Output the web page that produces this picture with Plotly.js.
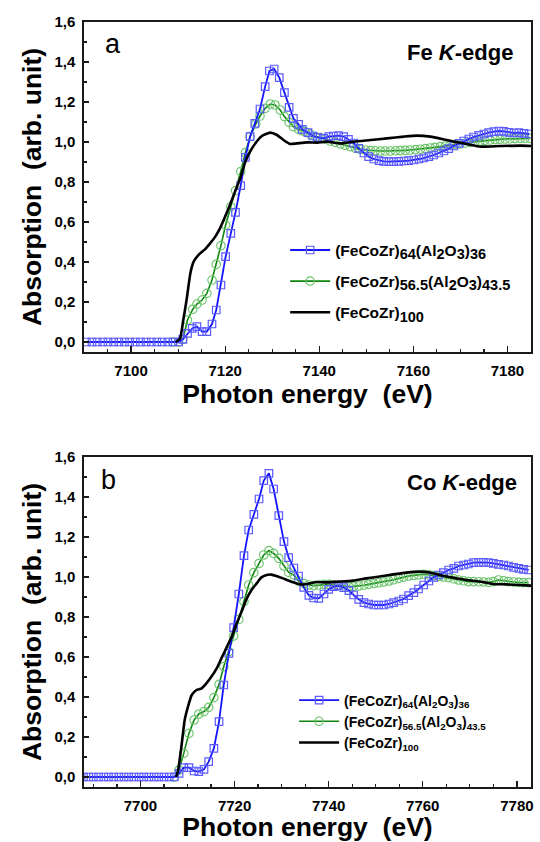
<!DOCTYPE html>
<html>
<head>
<meta charset="utf-8">
<script src="https://cdn.plot.ly/plotly-3.0.1.min.js"></script>
<style>html,body{margin:0;padding:0;background:#fff;}#chart{width:540px;height:842px;}</style>
</head>
<body>
<div id="chart"></div>
<script>
// ---------- Labels ----------
const seriesNamesFe = [
  "(FeCoZr)<sub><span style='font-size:14.5px'>64</span></sub>(Al<sub><span style='font-size:14.5px'>2</span></sub>O<sub><span style='font-size:14.5px'>3</span></sub>)<sub><span style='font-size:14.5px'>36</span></sub>",
  "(FeCoZr)<sub><span style='font-size:14.5px'>56.5</span></sub>(Al<sub><span style='font-size:14.5px'>2</span></sub>O<sub><span style='font-size:14.5px'>3</span></sub>)<sub><span style='font-size:14.5px'>43.5</span></sub>",
  "(FeCoZr)<sub><span style='font-size:14.5px'>100</span></sub>"
];
const seriesNamesCo = [
  "(FeCoZr)<sub>64</sub>(Al<sub>2</sub>O<sub>3</sub>)<sub>36</sub>",
  "(FeCoZr)<sub>56.5</sub>(Al<sub>2</sub>O<sub>3</sub>)<sub>43.5</sub>",
  "(FeCoZr)<sub>100</sub>"
];
const panelLetters = ["a", "b"];
const panelEdges = ["Fe <i>K</i>-edge", "Co <i>K</i>-edge"];
const xTitle = "Photon energy&nbsp; (eV)";
const yTitle = "Absorption&nbsp; (arb. unit)";

// ---------- Panel a: Fe K-edge ----------
const feBlueX = [7090.5,7091.7,7092.8,7094.0,7095.1,7096.3,7097.4,7098.6,7099.7,7100.9,7102.0,7103.2,7104.3,7105.5,7106.6,7107.8,7108.9,7110.1,
  7111.0,7112.0,7113.0,7114.0,7115.1,7116.1,7117.2,7118.1,7119.1,7120.1,7121.2,7122.2,7123.3,7124.3,7125.3,7126.3,7127.4,7128.5,7129.4,7130.4,
  7131.5,7132.6,7133.6,7134.5,7135.6,7136.4,7137.6,7138.6,7139.6,
  7140.9,7142.0,7143.0,7144.1,7145.2,7146.2,7147.3,7148.4,7149.5,7150.5,7151.6,7152.7,7153.7,7154.8,7155.8,7156.9,7158.0,7159.0,7160.1,7161.2,
  7162.2,7163.3,7164.3,7165.4,7166.5,7167.5,7168.6,7169.7,7170.7,7171.8,7172.8,7173.9,7175.0,7176.0,7177.1,7178.2,7179.2,7180.3,7181.4,7182.4,7183.5,7184.6];
const feBlueY = [0,0,0,0,0,0,0,0,0,0,0,0,0,0,0,0,0,0,
  0.013,0.043,0.068,0.077,0.052,0.052,0.09,0.16,0.285,0.427,0.543,0.648,0.782,0.923,1.027,1.093,1.165,1.277,1.355,1.365,
  1.322,1.247,1.173,1.118,1.088,1.063,1.047,1.03,1.023,
  1.018,1.027,1.030,1.032,1.027,1.013,0.995,0.968,0.945,0.927,0.915,0.907,0.903,0.902,0.902,0.903,0.905,0.907,0.910,0.915,
  0.920,0.927,0.935,0.945,0.955,0.967,0.980,0.993,1.005,1.015,1.025,1.033,1.040,1.047,1.052,1.055,1.053,1.048,1.045,1.047,1.043,1.040];

const feGreenX = [7108.9,7110.1,7111.0,7112.0,7113.1,7114.0,7115.1,7116.1,7117.2,7118.1,7119.1,7120.1,7121.2,7122.2,7123.3,7124.3,7125.3,7126.5,
  7127.4,7128.5,7129.6,7130.6,7131.7,7132.6,7133.6,7134.5,7135.6,7136.3,
  7137.0,7138.1,7139.2,7140.2,7141.3,7142.3,7143.4,7144.5,7145.5,7146.6,7147.7,7148.7,7149.8,7150.9,7151.9,7153.0,7154.0,7155.1,7156.2,7157.2,
  7158.3,7159.3,7160.4,7161.5,7162.5,7163.6,7164.6,7165.7,7166.8,7167.8,7168.9,7169.9,7171.0,7172.1,7173.1,7174.2,7175.2,7176.3,7177.4,7178.4,
  7179.5,7180.5,7181.6,7182.7,7183.7,7184.8];
const feGreenY = [0,0,0.013,0.11,0.163,0.19,0.21,0.243,0.31,0.388,0.482,0.585,0.677,0.757,0.852,0.947,1.027,1.09,
  1.13,1.168,1.19,1.185,1.16,1.127,1.098,1.077,1.063,1.057,
  1.052,1.038,1.027,1.022,1.015,1.005,0.998,0.990,0.983,0.977,0.968,0.963,0.960,0.957,0.956,0.955,0.955,0.955,0.956,0.957,
  0.958,0.960,0.962,0.964,0.967,0.970,0.973,0.977,0.980,0.984,0.987,0.990,0.994,0.998,1.002,1.005,1.008,1.010,1.012,1.013,
  1.015,1.016,1.017,1.018,1.018,1.018];

const feBlackX = [7109.5,7110.4,7111.1,7111.8,7112.6,7113.3,7114.3,7115.7,7116.8,7117.9,7118.9,7120.0,7121.1,7122.1,7123.2,7124.3,7125.3,7126.4,7127.8,7129.6,
  7131.0,7132.4,7133.8,7135.2,7137.4,7139.6,7141.6,7144.5,7147.3,7150.9,7154.4,7158.0,7160.8,7163.6,7166.5,7168.6,7171.4,7174.3,7178.5,7182.8,7185.0];
const feBlackY = [0,0.017,0.11,0.21,0.343,0.402,0.435,0.463,0.493,0.527,0.568,0.627,0.69,0.752,0.818,0.902,0.952,0.993,1.03,1.047,
  1.035,1.01,0.99,0.993,0.998,0.997,1.002,0.993,1.002,1.01,1.018,1.027,1.032,1.027,1.013,1.002,0.99,0.977,0.98,0.982,0.98];

// ---------- Panel b: Co K-edge ----------
const coBlueX = [7687.9,7689.0,7690.0,7691.1,7692.2,7693.2,7694.3,7695.4,7696.5,7697.5,7698.6,7699.7,7700.7,7701.8,7702.9,7703.9,7705.0,7706.1,7707.2,
  7708.2,7709.2,7710.3,7711.4,7712.4,7713.5,7714.5,7715.6,7716.7,7717.7,7718.8,7719.8,7720.9,7722.0,7723.0,7724.1,7725.2,7726.2,7727.3,7728.3,
  7729.4,7730.5,7731.5,7732.6,7733.6,7734.7,7735.8,7736.8,7737.9,7739.0,7740.0,7741.1,7742.1,7743.2,7744.3,7745.3,7746.4,7747.5,7748.5,7749.6,
  7750.6,7751.7,7752.8,7753.8,7754.9,7755.9,7757.0,7758.1,7759.1,7760.2,7761.3,7762.3,7763.4,7764.4,7765.5,7766.6,7767.6,7768.7,7769.7,7770.8,
  7771.9,7772.9,7774.0,7775.0,7776.1,7777.2,7778.2,7779.3,7780.4,7781.4,7782.5];
const coBlueY = [0,0,0,0,0,0,0,0,0,0,0,0,0,0,0,0,0,0,0,
  0.018,0.047,0.047,0.03,0.027,0.038,0.077,0.143,0.277,0.46,0.618,0.747,0.915,1.107,1.235,1.313,1.39,1.482,1.518,1.44,
  1.307,1.177,1.097,1.045,1.005,0.948,0.908,0.895,0.893,0.915,0.938,0.952,0.957,0.947,0.932,0.91,0.888,0.872,0.865,0.86,
  0.86,0.86,0.865,0.872,0.88,0.89,0.907,0.922,0.94,0.96,0.98,0.998,1.01,1.022,1.035,1.043,1.055,1.06,1.065,1.072,
  1.073,1.073,1.072,1.068,1.063,1.06,1.055,1.048,1.043,1.038,1.035];

const coGreenX = [7707.2,7708.2,7709.2,7710.3,7711.4,7712.4,7713.5,7714.5,7715.6,7716.7,7717.7,7718.8,7719.8,7720.9,7722.0,7723.0,7724.1,7725.2,7726.2,7727.3,
  7728.3,7729.4,7730.5,7731.5,7732.6,7733.6,7734.7,7735.8,7736.8,7737.9,7739.0,7740.0,
  7741.1,7742.1,7743.2,7744.3,7745.3,7746.4,7747.5,7748.5,7749.6,7750.6,7751.7,7752.8,7753.8,7754.9,7755.9,7757.0,7758.1,7759.1,7760.2,7761.3,
  7762.3,7763.4,7764.4,7765.5,7766.6,7767.6,7768.7,7769.7,7770.8,7771.9,7772.9,7774.0,7775.0,7776.1,7777.2,7778.2,7779.3,7780.4,7781.4,7782.5];
const coGreenY = [0,0.035,0.118,0.218,0.285,0.315,0.327,0.348,0.397,0.463,0.552,0.627,0.705,0.788,0.877,0.96,1.022,1.068,1.11,1.132,
  1.118,1.093,1.055,1.023,1.01,0.98,0.968,0.96,0.957,0.96,0.963,0.963,
  0.960,0.957,0.955,0.952,0.953,0.955,0.959,0.963,0.967,0.971,0.975,0.980,0.986,0.993,0.999,1.005,1.008,1.010,1.014,1.011,
  1.007,1.003,1.000,0.997,0.991,0.985,0.981,0.977,0.977,0.976,0.975,0.973,0.977,0.985,0.981,0.977,0.975,0.973,0.972,0.972];

const coBlackX = [7707.6,7708.0,7708.7,7709.4,7710.1,7710.9,7711.9,7713.0,7714.0,7715.1,7716.2,7717.2,7718.3,7719.4,7720.4,7721.5,7722.5,7723.6,7724.7,7725.7,
  7726.8,7727.8,7728.9,7730.3,7731.7,7733.2,7734.6,7736.0,7737.4,7739.5,7742.4,7745.2,7748.0,7750.8,7753.7,7756.5,7759.3,7761.5,7763.6,7766.4,
  7769.2,7772.1,7774.9,7777.7,7780.6,7783.0];
const coBlackY = [0,0.035,0.152,0.285,0.352,0.41,0.435,0.443,0.468,0.502,0.543,0.593,0.647,0.702,0.765,0.827,0.888,0.935,0.968,0.998,
  1.01,1.012,1.005,0.993,0.98,0.968,0.962,0.968,0.975,0.973,0.977,0.982,0.993,1.002,1.013,1.022,1.027,1.022,1.01,0.997,
  0.985,0.977,0.965,0.963,0.96,0.957];

// ---------- Styles ----------
const FONT = "Liberation Sans, Arial, Helvetica, sans-serif";
const BLUE_LINE = "#1414ff", BLUE_MK = "#5a5aff";
const GREEN_LINE = "#0f870f", GREEN_MK = "#6cc46c";

function makeTraces(names, bx, by, gx, gy, kx, ky, xa, ya, leg) {
  return [
    {x: gx, y: gy, xaxis: xa, yaxis: ya, type: "scatter", mode: "lines+markers", name: names[1],
     legend: leg, legendgroup: leg + "g", legendrank: 2,
     line: {color: GREEN_LINE, width: 1.6},
     marker: {symbol: "circle-open", size: 8.5, color: GREEN_MK, line: {width: 1.1, color: GREEN_MK}}},
    {x: bx, y: by, xaxis: xa, yaxis: ya, type: "scatter", mode: "lines+markers", name: names[0],
     legend: leg, legendgroup: leg + "b", legendrank: 1,
     line: {color: BLUE_LINE, width: 1.8},
     marker: {symbol: "square-open", size: 7.5, color: BLUE_MK, line: {width: 1.2, color: BLUE_MK}}},
    {x: kx, y: ky, xaxis: xa, yaxis: ya, type: "scatter", mode: "lines", name: names[2],
     legend: leg, legendgroup: leg + "k", legendrank: 3,
     line: {color: "#000000", width: 2.6, shape: "spline", smoothing: 0.5}}
  ];
}

const data = [].concat(
  makeTraces(seriesNamesFe, feBlueX, feBlueY, feGreenX, feGreenY, feBlackX, feBlackY, "x", "y", "legend"),
  makeTraces(seriesNamesCo, coBlueX, coBlueY, coGreenX, coGreenY, coBlackX, coBlackY, "x2", "y2", "legend2")
);

function xAxis(range, tick0, anchor) {
  return {
    anchor: anchor, range: range, tick0: tick0, dtick: 20,
    showline: true, linecolor: "#1a1a1a", linewidth: 1.6, mirror: true,
    ticks: "inside", ticklen: 6, tickwidth: 1.3, tickcolor: "#1a1a1a",
    minor: {ticks: "inside", dtick: 5, ticklen: 3.5, tickwidth: 1.2, tickcolor: "#1a1a1a"},
    showgrid: false, zeroline: false,
    tickfont: {family: FONT, size: 15, color: "#000", weight: "bold"},
    ticklabelstandoff: 4,
    title: {text: xTitle, font: {family: FONT, size: 26.5, color: "#000", weight: "bold"}, standoff: 4}
  };
}
function yAxis(domain, anchor) {
  return {
    anchor: anchor, domain: domain, range: [-0.05, 1.6], tick0: 0, dtick: 0.2, tickformat: ".1f",
    showline: true, linecolor: "#1a1a1a", linewidth: 1.6, mirror: true,
    ticks: "inside", ticklen: 5, tickwidth: 1.3, tickcolor: "#1a1a1a",
    minor: {ticks: "inside", dtick: 0.1, ticklen: 3, tickwidth: 1.2, tickcolor: "#1a1a1a"},
    showgrid: false, zeroline: false,
    tickfont: {family: FONT, size: 15, color: "#000", weight: "bold"},
    ticklabelstandoff: 4,
    title: {text: yTitle, font: {family: FONT, size: 26.5, color: "#000", weight: "bold"}, standoff: 5}
  };
}

const layout = {
  width: 540, height: 842,
  margin: {l: 84, r: 9, t: 22, b: 55},
  paper_bgcolor: "#fff", plot_bgcolor: "#fff",
  separators: ",.",
  font: {family: FONT, color: "#000"},
  xaxis: xAxis([7090, 7185], 7100, "y"),
  yaxis: yAxis([0.5686, 1], "x"),
  xaxis2: xAxis([7688, 7783], 7700, "y2"),
  yaxis2: yAxis([0, 0.4314], "x2"),
  showlegend: true,
  legend: {x: 0.45, y: 0.7236, xanchor: "left", yanchor: "top", bgcolor: "rgba(0,0,0,0)", itemwidth: 40,
           font: {family: FONT, size: 15.5, color: "#000", weight: "bold"}, tracegroupgap: 8, traceorder: "grouped"},
  legend2: {x: 0.47, y: 0.134, xanchor: "left", yanchor: "top", bgcolor: "rgba(0,0,0,0)", itemwidth: 40,
           font: {family: FONT, size: 14, color: "#000", weight: "bold"}, tracegroupgap: 0, traceorder: "grouped"},
  annotations: [
    {xref: "x domain", yref: "y domain", x: 0.065, y: 0.933, text: panelLetters[0], showarrow: false,
     xanchor: "center", yanchor: "middle", font: {family: FONT, size: 27, color: "#000"}},
    {xref: "x domain", yref: "y domain", x: 0.964, y: 0.909, text: panelEdges[0], showarrow: false,
     xanchor: "right", yanchor: "middle", font: {family: FONT, size: 22, color: "#000", weight: "bold"}},
    {xref: "x2 domain", yref: "y2 domain", x: 0.055, y: 0.93, text: panelLetters[1], showarrow: false,
     xanchor: "center", yanchor: "middle", font: {family: FONT, size: 27, color: "#000"}},
    {xref: "x2 domain", yref: "y2 domain", x: 0.973, y: 0.924, text: panelEdges[1], showarrow: false,
     xanchor: "right", yanchor: "middle", font: {family: FONT, size: 22, color: "#000", weight: "bold"}}
  ]
};

Plotly.newPlot("chart", data, layout, {displayModeBar: false, staticPlot: true});
</script>
</body>
</html>
